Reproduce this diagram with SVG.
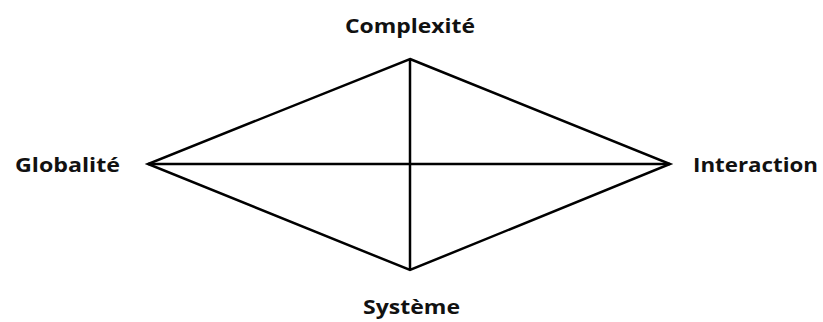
<svg xmlns="http://www.w3.org/2000/svg" width="823" height="322" viewBox="0 0 823 322">
  <style>
    .edge { stroke: #000; stroke-width: 2.5; fill: none; stroke-linejoin: miter; }
    .label { font-family: "Open Sans", "Liberation Sans", sans-serif; font-weight: bold; font-size: 20px; fill: #111; }
  </style>
  <rect width="823" height="322" fill="#fff"/>
  <g id="connectors">
    <polygon class="edge" points="410,59 670,164 410,270 148,164"/>
    <line class="edge" x1="410" y1="59" x2="410" y2="270"/>
    <line class="edge" x1="148" y1="164" x2="670" y2="164"/>
  </g>
  <g id="complexite">
    <text class="label" x="345" y="33" textLength="130" lengthAdjust="spacingAndGlyphs">Complexité</text>
  </g>
  <g id="globalite">
    <text class="label" x="15" y="172" textLength="105" lengthAdjust="spacingAndGlyphs">Globalité</text>
  </g>
  <g id="interaction">
    <text class="label" x="693" y="172" textLength="125" lengthAdjust="spacingAndGlyphs">Interaction</text>
  </g>
  <g id="systeme">
    <text class="label" x="363" y="314" textLength="97" lengthAdjust="spacingAndGlyphs">Système</text>
  </g>
</svg>
